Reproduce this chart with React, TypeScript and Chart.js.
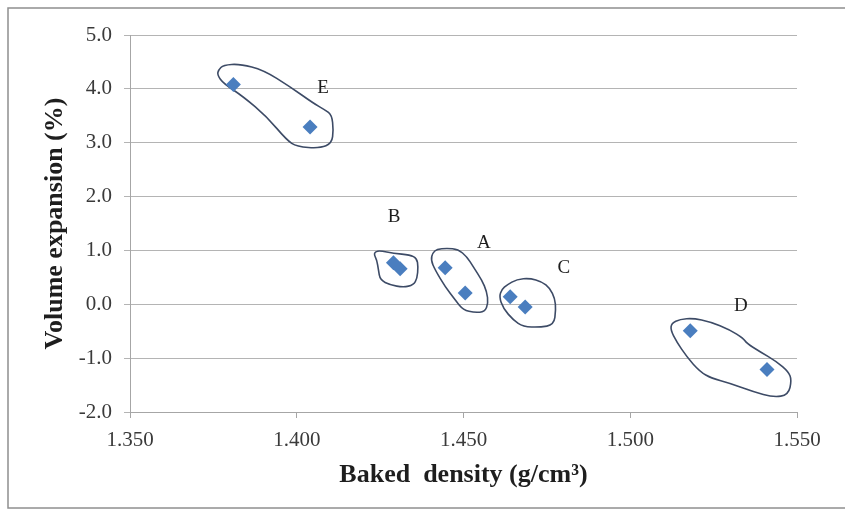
import React, { useEffect, useRef } from "react";
import { Chart, registerables } from "chart.js";

Chart.register(...registerables);

// Data
const bakedDensity = [1.381, 1.404, 1.429, 1.431, 1.4445, 1.4505, 1.464, 1.4685, 1.518, 1.541];
const volumeExpansion = [4.08, 3.29, 0.77, 0.66, 0.68, 0.21, 0.14, -0.05, -0.49, -1.21];

const xTicks = [1.35, 1.4, 1.45, 1.5, 1.55];
const yTicks = [-2, -1, 0, 1, 2, 3, 4, 5];

// Group labels (annotation text, in data units)
const groupNames = ["E", "B", "A", "C", "D"];
const groupLabelX = [1.4079, 1.4292, 1.4561, 1.4801, 1.5332];
const groupLabelY = [4.02, 1.62, 1.14, 0.67, -0.03];

// Hand-drawn group outlines (annotation shapes, in data units)
const outlineE = [
  [1.3765, 4.35], [1.378, 4.443], [1.383, 4.462], [1.39, 4.35], [1.398, 4.04],
  [1.405, 3.732], [1.4085, 3.608], [1.4105, 3.515], [1.411, 3.236], [1.4105, 2.989],
  [1.407, 2.896], [1.4, 2.926], [1.397, 3.05], [1.391, 3.483], [1.384, 3.854],
  [1.378, 4.103], [1.3762, 4.257],
];
const outlineB = [
  [1.4235, 0.977], [1.425, 0.995], [1.429, 0.947], [1.434, 0.915], [1.436, 0.854],
  [1.4364, 0.698], [1.4361, 0.483], [1.435, 0.358], [1.432, 0.316], [1.428, 0.358],
  [1.425, 0.451], [1.4245, 0.637], [1.424, 0.823], [1.4232, 0.915],
];
const outlineA = [
  [1.442, 1.021], [1.445, 1.04], [1.4484, 1.021], [1.451, 0.884], [1.4529, 0.698],
  [1.4555, 0.451], [1.457, 0.234], [1.4574, 0.019], [1.4564, -0.137], [1.4534, -0.156],
  [1.4499, -0.106], [1.4475, 0.08], [1.4445, 0.327], [1.4415, 0.637], [1.4402, 0.823],
  [1.4408, 0.958],
];
const outlineC = [
  [1.463, 0.358], [1.466, 0.464], [1.4699, 0.483], [1.4735, 0.42], [1.4759, 0.297],
  [1.4774, 0.111], [1.4777, -0.106], [1.4771, -0.384], [1.4729, -0.427], [1.4679, -0.416],
  [1.4649, -0.291], [1.4619, -0.074], [1.4607, 0.141], [1.4615, 0.278],
];
const outlineD = [
  [1.5124, -0.353], [1.5149, -0.278], [1.5189, -0.26], [1.5239, -0.323], [1.5299, -0.477],
  [1.5339, -0.631], [1.5349, -0.724], [1.5389, -0.88], [1.5439, -1.066], [1.5474, -1.251],
  [1.5484, -1.405], [1.5474, -1.684], [1.5429, -1.727], [1.5369, -1.623], [1.5299, -1.467],
  [1.5244, -1.374], [1.5209, -1.251], [1.5169, -0.973], [1.5139, -0.694], [1.5121, -0.477],
];
const outlines = [outlineE, outlineB, outlineA, outlineC, outlineD];

const SERIF = "'Liberation Serif', 'Times New Roman', serif";

const annotationPlugin = {
  id: "annotations",
  beforeDraw(chart: any) {
    const ctx = chart.ctx;
    ctx.save();
    ctx.fillStyle = "#ffffff";
    ctx.fillRect(0, 0, chart.width, chart.height);
    ctx.strokeStyle = "#8f8f8f";
    ctx.lineWidth = 1.5;
    ctx.strokeRect(8, 8, chart.width + 20, 500);
    ctx.restore();
  },
  beforeDatasetsDraw(chart: any) {
    const ctx = chart.ctx;
    const xs = chart.scales.x;
    const ys = chart.scales.y;
    ctx.save();
    ctx.strokeStyle = "#3d4b66";
    ctx.lineWidth = 1.6;
    ctx.lineJoin = "round";
    for (const shape of outlines) {
      const pts = shape.map((p) => [xs.getPixelForValue(p[0]), ys.getPixelForValue(p[1])]);
      const n = pts.length;
      ctx.beginPath();
      const mid = (a: number[], b: number[]) => [(a[0] + b[0]) / 2, (a[1] + b[1]) / 2];
      const start = mid(pts[n - 1], pts[0]);
      ctx.moveTo(start[0], start[1]);
      for (let i = 0; i < n; i++) {
        const cur = pts[i];
        const next = pts[(i + 1) % n];
        const m = mid(cur, next);
        ctx.quadraticCurveTo(cur[0], cur[1], m[0], m[1]);
      }
      ctx.closePath();
      ctx.stroke();
    }
    ctx.restore();
  },
  afterDatasetsDraw(chart: any) {
    const ctx = chart.ctx;
    const xs = chart.scales.x;
    const ys = chart.scales.y;
    ctx.save();
    ctx.fillStyle = "#1e1e1e";
    ctx.font = `19px ${SERIF}`;
    ctx.textAlign = "center";
    ctx.textBaseline = "middle";
    groupNames.forEach((name, i) => {
      ctx.fillText(name, xs.getPixelForValue(groupLabelX[i]), ys.getPixelForValue(groupLabelY[i]));
    });
    ctx.restore();
  },
};

export default function App() {
  const canvasRef = useRef<HTMLCanvasElement | null>(null);

  useEffect(() => {
    if (!canvasRef.current) return;
    const chart = new Chart(canvasRef.current, {
      type: "scatter",
      data: {
        datasets: [
          {
            label: "Volume expansion",
            data: bakedDensity.map((x, i) => ({ x, y: volumeExpansion[i] })),
            pointStyle: "rectRot",
            pointRadius: 7.5,
            pointHoverRadius: 7.5,
            backgroundColor: "#4a7ebf",
            borderColor: "#4a7ebf",
            borderWidth: 0,
          },
        ],
      },
      options: {
        responsive: false,
        animation: false,
        devicePixelRatio: 1,
        layout: { padding: { left: 0, right: 48, top: 35, bottom: 0 } },
        plugins: {
          legend: { display: false },
          tooltip: { enabled: false },
        },
        scales: {
          x: {
            type: "linear",
            min: 1.35,
            max: 1.55,
            afterBuildTicks: (scale: any) => {
              scale.ticks = xTicks.map((v) => ({ value: v }));
            },
            afterFit: (scale: any) => {
              scale.height = 101;
            },
            ticks: {
              callback: (v: any) => Number(v).toFixed(3),
              font: { family: SERIF, size: 21 },
              color: "#3a3a3a",
              padding: 10,
              maxRotation: 0,
            },
            grid: {
              drawOnChartArea: false,
              drawTicks: true,
              tickLength: 6,
              color: "#a6a6a6",
            },
            border: { display: true, color: "#a6a6a6", width: 1 },
            title: {
              display: true,
              text: "Baked  density (g/cm³)",
              font: { family: SERIF, size: 26, weight: "bold" },
              color: "#1e1e1e",
              padding: { top: 0, bottom: 22 },
            },
          },
          y: {
            type: "linear",
            min: -2,
            max: 5,
            afterBuildTicks: (scale: any) => {
              scale.ticks = yTicks.map((v) => ({ value: v }));
            },
            afterFit: (scale: any) => {
              scale.width = 130;
            },
            ticks: {
              callback: (v: any) => Number(v).toFixed(1),
              font: { family: SERIF, size: 21 },
              color: "#3a3a3a",
              padding: 12,
            },
            grid: {
              drawOnChartArea: true,
              drawTicks: true,
              tickLength: 6,
              color: "#b4b4b4",
              lineWidth: 1,
            },
            border: { display: true, color: "#a6a6a6", width: 1 },
            title: {
              display: true,
              text: "Volume expansion (%)",
              font: { family: SERIF, size: 26, weight: "bold" },
              color: "#1e1e1e",
              padding: { top: 40, bottom: 0 },
            },
          },
        },
      },
      plugins: [annotationPlugin],
    });
    return () => chart.destroy();
  }, []);

  return (
    <div style={{ position: "absolute", left: 0, top: 0, width: 845, height: 513 }}>
      <canvas ref={canvasRef} width={845} height={513} style={{ display: "block" }} />
    </div>
  );
}
